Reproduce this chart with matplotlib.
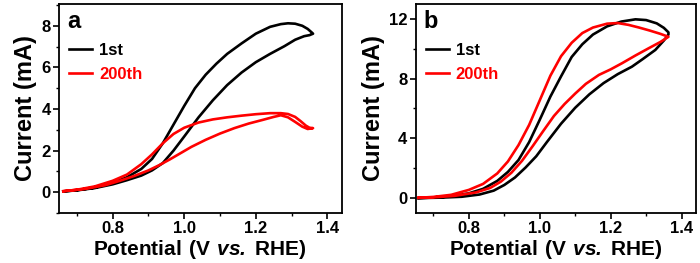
import numpy as np
import matplotlib
matplotlib.use('Agg')
import matplotlib.pyplot as plt
from matplotlib.ticker import MultipleLocator

plt.rcParams['font.family'] = ['Liberation Sans', 'DejaVu Sans']
plt.rcParams['font.weight'] = 'bold'
plt.rcParams['mathtext.fontset'] = 'custom'
plt.rcParams['mathtext.bf'] = 'Liberation Sans:bold'
plt.rcParams['mathtext.bfit'] = 'Liberation Sans:bold:italic'

# ---- panel a: forward (upper) and reverse (lower) branches, V vs RHE / mA
a1_fwd_v = [0.662, 0.70, 0.75, 0.80, 0.84, 0.88, 0.91, 0.94, 0.97, 1.00, 1.03, 1.06, 1.09, 1.12, 1.16, 1.20,
            1.24, 1.27, 1.29, 1.31, 1.33, 1.345, 1.355, 1.36]
a1_fwd_i = [0.04, 0.10, 0.22, 0.45, 0.72, 1.12, 1.60, 2.35, 3.25, 4.15, 5.00, 5.65, 6.18, 6.65, 7.15, 7.62,
            7.95, 8.08, 8.12, 8.10, 8.00, 7.85, 7.70, 7.62]
a1_rev_v = [1.36, 1.35, 1.335, 1.31, 1.28, 1.24, 1.20, 1.16, 1.12, 1.08, 1.04, 1.00, 0.97, 0.94, 0.91, 0.88,
            0.84, 0.80, 0.75, 0.70, 0.662]
a1_rev_i = [7.62, 7.55, 7.50, 7.33, 7.02, 6.65, 6.25, 5.75, 5.15, 4.42, 3.60, 2.68, 2.00, 1.40, 1.05, 0.80,
            0.58, 0.38, 0.20, 0.09, 0.04]

a200_fwd_v = [0.662, 0.70, 0.75, 0.80, 0.84, 0.88, 0.91, 0.94, 0.97, 1.00, 1.04, 1.08, 1.12, 1.16, 1.20, 1.24,
              1.27, 1.29, 1.31, 1.325, 1.34, 1.35, 1.36]
a200_fwd_i = [0.05, 0.12, 0.28, 0.55, 0.85, 1.35, 1.82, 2.35, 2.80, 3.10, 3.35, 3.50, 3.60, 3.68, 3.75, 3.80,
              3.80, 3.76, 3.62, 3.42, 3.20, 3.10, 3.08]
a200_rev_v = [1.36, 1.345, 1.33, 1.31, 1.29, 1.27, 1.25, 1.22, 1.18, 1.14, 1.10, 1.06, 1.02, 0.99, 0.96, 0.93,
              0.90, 0.86, 0.82, 0.78, 0.72, 0.662]
a200_rev_i = [3.08, 3.04, 3.15, 3.38, 3.60, 3.70, 3.62, 3.48, 3.30, 3.08, 2.82, 2.52, 2.18, 1.88, 1.58, 1.30,
              1.05, 0.78, 0.55, 0.34, 0.15, 0.05]

# ---- panel b
b1_fwd_v = [0.658, 0.70, 0.75, 0.80, 0.84, 0.88, 0.91, 0.94, 0.97, 1.00, 1.03, 1.06, 1.09, 1.12, 1.15, 1.19,
            1.23, 1.27, 1.30, 1.33, 1.35, 1.363]
b1_fwd_i = [0.00, 0.04, 0.12, 0.32, 0.62, 1.15, 1.75, 2.55, 3.75, 5.25, 6.80, 8.15, 9.45, 10.30, 10.95, 11.50,
            11.82, 11.97, 11.92, 11.70, 11.40, 11.10]
b1_rev_v = [1.363, 1.35, 1.326, 1.29, 1.26, 1.22, 1.18, 1.14, 1.10, 1.06, 1.02, 0.99, 0.96, 0.93, 0.90, 0.87,
            0.83, 0.78, 0.72, 0.658]
b1_rev_i = [10.95, 10.55, 9.92, 9.30, 8.80, 8.30, 7.70, 6.95, 6.05, 4.98, 3.75, 2.80, 2.05, 1.38, 0.88, 0.50,
            0.24, 0.09, 0.03, 0.00]

b200_fwd_v = [0.658, 0.70, 0.75, 0.80, 0.84, 0.88, 0.91, 0.94, 0.97, 1.00, 1.03, 1.06, 1.09, 1.12, 1.15, 1.19,
              1.22, 1.25, 1.28, 1.31, 1.34, 1.363]
b200_fwd_i = [0.02, 0.08, 0.22, 0.55, 0.95, 1.65, 2.45, 3.55, 4.90, 6.55, 8.20, 9.50, 10.40, 11.05, 11.42, 11.68,
              11.72, 11.60, 11.42, 11.22, 11.00, 10.80]
b200_rev_v = [1.363, 1.34, 1.307, 1.27, 1.232, 1.20, 1.167, 1.13, 1.10, 1.07, 1.04, 1.01, 0.98, 0.95, 0.92, 0.89,
              0.86, 0.82, 0.76, 0.70, 0.658]
b200_rev_i = [10.80, 10.45, 10.03, 9.55, 9.03, 8.62, 8.25, 7.65, 7.00, 6.30, 5.50, 4.50, 3.48, 2.50, 1.70, 1.10,
              0.68, 0.38, 0.15, 0.05, 0.02]

labels = ['1st', '200th']
colors = ['black', 'red']

fig = plt.figure(figsize=(7, 2.63), dpi=100)
ax_a = fig.add_axes([0.0843, 0.190, 0.4038, 0.795])
ax_b = fig.add_axes([0.5939, 0.190, 0.4000, 0.795])

panels = [
    (ax_a, 'a', [(a1_fwd_v, a1_fwd_i, a1_rev_v, a1_rev_i), (a200_fwd_v, a200_fwd_i, a200_rev_v, a200_rev_i)],
     (-1.0, 9.05), 2, 1),
    (ax_b, 'b', [(b1_fwd_v, b1_fwd_i, b1_rev_v, b1_rev_i), (b200_fwd_v, b200_fwd_i, b200_rev_v, b200_rev_i)],
     (-1.0, 13.0), 4, 2),
]

for ax, letter, curves, ylim, ymaj, ymin in panels:
    for (fv, fi, rv, ri), lab, c in zip(curves, labels, colors):
        v = np.concatenate([fv, rv])
        i = np.concatenate([fi, ri])
        ax.plot(v, i, color=c, lw=1.9, label=lab, solid_joinstyle='round')
    ax.set_xlim(0.65, 1.44)
    ax.set_ylim(*ylim)
    ax.xaxis.set_major_locator(MultipleLocator(0.2))
    ax.xaxis.set_minor_locator(MultipleLocator(0.1))
    ax.yaxis.set_major_locator(MultipleLocator(ymaj))
    ax.yaxis.set_minor_locator(MultipleLocator(ymin))
    ax.tick_params(which='major', direction='out', length=4, width=1.2, labelsize=12, pad=2)
    ax.tick_params(which='minor', direction='out', length=2.5, width=1.0)
    for s in ax.spines.values():
        s.set_linewidth(1.3)
    ax.set_xlabel(r'$\mathbf{Potential\ (V\ }\mathbfit{vs.}\mathbf{\:RHE)}$', fontsize=15, labelpad=1)
    ax.set_ylabel('Current (mA)', fontsize=17, fontweight='bold', labelpad=3)
    ax.text(0.028, 0.885, letter, transform=ax.transAxes, fontsize=17, fontweight='bold', va='baseline')
    leg = ax.legend(loc='upper left', bbox_to_anchor=(0.035, 0.815), frameon=False, fontsize=12,
                    handlelength=1.4, handletextpad=0.4, labelspacing=0.55, borderpad=0, borderaxespad=0)
    for t, c in zip(leg.get_texts(), colors):
        t.set_color(c)
        t.set_fontweight('bold')

fig.savefig('out.png', dpi=100)
